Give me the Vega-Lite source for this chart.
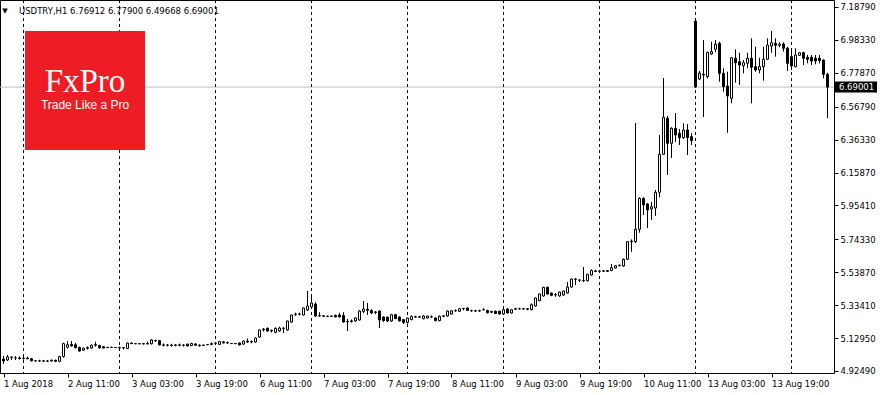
{
  "$schema": "https://vega.github.io/schema/vega-lite/v6.json",
  "width": 834,
  "height": 373,
  "autosize": {"type": "none"},
  "padding": {"left": 0, "top": 0, "right": 46, "bottom": 22},
  "background": "#ffffff",
  "config": {
    "view": {"stroke": "#000000", "strokeWidth": 1},
    "axis": {"labelFont": "DejaVu Sans", "labelFontSize": 8.5, "labelColor": "#000000", "tickColor": "#000000", "domain": false, "grid": false, "title": null, "labelOverlap": false}
  },
  "datasets": {
    "candles": [
      {"i":0,"o":4.9995,"h":5.0181,"l":4.9684,"c":4.9870},
      {"i":1,"o":4.9933,"h":5.0243,"l":4.9870,"c":5.0119},
      {"i":2,"o":5.0119,"h":5.0130,"l":4.9933,"c":5.0100},
      {"i":3,"o":5.0057,"h":5.0181,"l":4.9933,"c":5.0060},
      {"i":4,"o":5.0060,"h":5.0150,"l":4.9960,"c":5.0030},
      {"i":5,"o":5.0030,"h":5.0120,"l":4.9950,"c":5.0050},
      {"i":6,"o":5.0050,"h":5.0140,"l":4.9980,"c":5.0010},
      {"i":7,"o":5.0010,"h":5.0060,"l":4.9850,"c":4.9880},
      {"i":8,"o":4.9880,"h":4.9900,"l":4.9850,"c":4.9870},
      {"i":9,"o":4.9870,"h":4.9950,"l":4.9820,"c":4.9880},
      {"i":10,"o":4.9880,"h":4.9940,"l":4.9830,"c":4.9860},
      {"i":11,"o":4.9860,"h":4.9930,"l":4.9810,"c":4.9870},
      {"i":12,"o":4.9870,"h":4.9960,"l":4.9840,"c":4.9920},
      {"i":13,"o":4.9920,"h":4.9950,"l":4.9800,"c":4.9850},
      {"i":14,"o":4.9850,"h":5.0190,"l":4.9790,"c":5.0150},
      {"i":15,"o":5.0150,"h":5.1010,"l":5.0080,"c":5.0950},
      {"i":16,"o":5.0720,"h":5.1100,"l":5.0650,"c":5.0880},
      {"i":17,"o":5.0900,"h":5.1110,"l":5.0780,"c":5.0800},
      {"i":18,"o":5.0880,"h":5.1000,"l":5.0650,"c":5.0700},
      {"i":19,"o":5.0720,"h":5.0760,"l":5.0450,"c":5.0490},
      {"i":20,"o":5.0540,"h":5.0700,"l":5.0490,"c":5.0660},
      {"i":21,"o":5.0660,"h":5.0780,"l":5.0580,"c":5.0700},
      {"i":22,"o":5.0680,"h":5.0900,"l":5.0640,"c":5.0850},
      {"i":23,"o":5.0850,"h":5.1070,"l":5.0760,"c":5.0900},
      {"i":24,"o":5.0830,"h":5.0880,"l":5.0640,"c":5.0690},
      {"i":25,"o":5.0760,"h":5.0800,"l":5.0650,"c":5.0680},
      {"i":26,"o":5.0700,"h":5.0740,"l":5.0680,"c":5.0720},
      {"i":27,"o":5.0720,"h":5.0760,"l":5.0690,"c":5.0710},
      {"i":28,"o":5.0710,"h":5.0740,"l":5.0680,"c":5.0700},
      {"i":29,"o":5.0700,"h":5.0770,"l":5.0600,"c":5.0680},
      {"i":30,"o":5.0680,"h":5.0750,"l":5.0590,"c":5.0700},
      {"i":31,"o":5.0650,"h":5.1020,"l":5.0600,"c":5.0990},
      {"i":32,"o":5.0990,"h":5.1010,"l":5.0940,"c":5.0950},
      {"i":33,"o":5.0950,"h":5.0980,"l":5.0920,"c":5.0940},
      {"i":34,"o":5.0940,"h":5.0970,"l":5.0910,"c":5.0950},
      {"i":35,"o":5.0950,"h":5.0980,"l":5.0900,"c":5.0930},
      {"i":36,"o":5.0930,"h":5.1080,"l":5.0910,"c":5.0960},
      {"i":37,"o":5.0940,"h":5.1230,"l":5.0900,"c":5.1180},
      {"i":38,"o":5.1120,"h":5.1200,"l":5.1050,"c":5.1140},
      {"i":39,"o":5.1140,"h":5.1170,"l":5.0840,"c":5.0870},
      {"i":40,"o":5.0870,"h":5.0960,"l":5.0780,"c":5.0850},
      {"i":41,"o":5.0850,"h":5.0930,"l":5.0770,"c":5.0860},
      {"i":42,"o":5.0860,"h":5.0940,"l":5.0760,"c":5.0840},
      {"i":43,"o":5.0840,"h":5.0930,"l":5.0780,"c":5.0870},
      {"i":44,"o":5.0870,"h":5.0950,"l":5.0790,"c":5.0850},
      {"i":45,"o":5.0850,"h":5.0920,"l":5.0770,"c":5.0860},
      {"i":46,"o":5.0920,"h":5.0950,"l":5.0780,"c":5.0810},
      {"i":47,"o":5.0830,"h":5.1000,"l":5.0800,"c":5.0960},
      {"i":48,"o":5.0930,"h":5.0970,"l":5.0800,"c":5.0850},
      {"i":49,"o":5.0850,"h":5.0910,"l":5.0760,"c":5.0820},
      {"i":50,"o":5.0840,"h":5.0870,"l":5.0820,"c":5.0860},
      {"i":51,"o":5.0880,"h":5.0910,"l":5.0860,"c":5.0900},
      {"i":52,"o":5.0900,"h":5.1030,"l":5.0850,"c":5.0960},
      {"i":53,"o":5.0970,"h":5.1050,"l":5.0880,"c":5.0990},
      {"i":54,"o":5.0900,"h":5.1120,"l":5.0860,"c":5.1080},
      {"i":55,"o":5.1060,"h":5.1110,"l":5.0960,"c":5.1000},
      {"i":56,"o":5.1000,"h":5.1080,"l":5.0930,"c":5.1020},
      {"i":57,"o":5.0960,"h":5.0990,"l":5.0930,"c":5.0950},
      {"i":58,"o":5.0950,"h":5.0980,"l":5.0920,"c":5.0960},
      {"i":59,"o":5.0990,"h":5.1020,"l":5.0850,"c":5.0870},
      {"i":60,"o":5.0920,"h":5.1150,"l":5.0880,"c":5.1110},
      {"i":61,"o":5.1100,"h":5.1270,"l":5.0990,"c":5.1050},
      {"i":62,"o":5.1050,"h":5.1150,"l":5.0970,"c":5.1080},
      {"i":63,"o":5.1050,"h":5.1330,"l":5.1000,"c":5.1300},
      {"i":64,"o":5.1360,"h":5.1830,"l":5.1300,"c":5.1800},
      {"i":65,"o":5.1800,"h":5.1920,"l":5.1700,"c":5.1850},
      {"i":66,"o":5.1900,"h":5.1960,"l":5.1690,"c":5.1740},
      {"i":67,"o":5.1740,"h":5.1820,"l":5.1640,"c":5.1780},
      {"i":68,"o":5.1650,"h":5.1960,"l":5.1600,"c":5.1900},
      {"i":69,"o":5.1740,"h":5.2000,"l":5.1680,"c":5.1920},
      {"i":70,"o":5.1920,"h":5.1950,"l":5.1610,"c":5.1900},
      {"i":71,"o":5.1800,"h":5.2380,"l":5.1760,"c":5.2357},
      {"i":72,"o":5.2295,"h":5.2760,"l":5.2240,"c":5.2730},
      {"i":73,"o":5.2760,"h":5.2870,"l":5.2670,"c":5.2790},
      {"i":74,"o":5.2790,"h":5.2880,"l":5.2700,"c":5.2780},
      {"i":75,"o":5.2730,"h":5.3200,"l":5.2700,"c":5.3166},
      {"i":76,"o":5.3040,"h":5.4223,"l":5.2980,"c":5.3290},
      {"i":77,"o":5.3228,"h":5.3974,"l":5.3180,"c":5.3477},
      {"i":78,"o":5.3414,"h":5.3520,"l":5.2600,"c":5.2668},
      {"i":79,"o":5.2668,"h":5.2900,"l":5.2620,"c":5.2680},
      {"i":80,"o":5.2680,"h":5.2720,"l":5.2620,"c":5.2650},
      {"i":81,"o":5.2650,"h":5.2700,"l":5.2600,"c":5.2640},
      {"i":82,"o":5.2640,"h":5.2700,"l":5.2600,"c":5.2660},
      {"i":83,"o":5.2700,"h":5.2760,"l":5.2580,"c":5.2610},
      {"i":84,"o":5.2730,"h":5.2870,"l":5.2580,"c":5.2610},
      {"i":85,"o":5.2700,"h":5.2900,"l":5.2250,"c":5.2295},
      {"i":86,"o":5.2300,"h":5.2480,"l":5.1736,"c":5.2330},
      {"i":87,"o":5.2330,"h":5.2450,"l":5.2250,"c":5.2370},
      {"i":88,"o":5.2357,"h":5.2600,"l":5.2300,"c":5.2544},
      {"i":89,"o":5.2419,"h":5.3030,"l":5.2380,"c":5.2979},
      {"i":90,"o":5.2950,"h":5.3601,"l":5.2855,"c":5.3103},
      {"i":91,"o":5.3080,"h":5.3477,"l":5.2730,"c":5.3020},
      {"i":92,"o":5.3010,"h":5.3100,"l":5.2800,"c":5.2855},
      {"i":93,"o":5.2880,"h":5.2980,"l":5.2790,"c":5.2920},
      {"i":94,"o":5.2979,"h":5.3020,"l":5.1922,"c":5.2419},
      {"i":95,"o":5.2606,"h":5.2650,"l":5.2300,"c":5.2380},
      {"i":96,"o":5.2600,"h":5.2630,"l":5.2300,"c":5.2357},
      {"i":97,"o":5.2357,"h":5.2800,"l":5.2300,"c":5.2750},
      {"i":98,"o":5.2750,"h":5.2800,"l":5.2480,"c":5.2500},
      {"i":99,"o":5.2600,"h":5.2650,"l":5.2320,"c":5.2360},
      {"i":100,"o":5.2440,"h":5.2480,"l":5.2171,"c":5.2270},
      {"i":101,"o":5.2270,"h":5.2560,"l":5.2200,"c":5.2540},
      {"i":102,"o":5.2440,"h":5.2700,"l":5.2400,"c":5.2650},
      {"i":103,"o":5.2620,"h":5.2690,"l":5.2560,"c":5.2600},
      {"i":104,"o":5.2600,"h":5.2680,"l":5.2550,"c":5.2620},
      {"i":105,"o":5.2500,"h":5.2720,"l":5.2460,"c":5.2668},
      {"i":106,"o":5.2544,"h":5.2700,"l":5.2500,"c":5.2660},
      {"i":107,"o":5.2620,"h":5.2700,"l":5.2560,"c":5.2610},
      {"i":108,"o":5.2544,"h":5.2590,"l":5.2340,"c":5.2380},
      {"i":109,"o":5.2380,"h":5.2700,"l":5.2340,"c":5.2650},
      {"i":110,"o":5.2650,"h":5.2720,"l":5.2600,"c":5.2680},
      {"i":111,"o":5.2668,"h":5.3020,"l":5.2630,"c":5.2979},
      {"i":112,"o":5.2792,"h":5.3030,"l":5.2760,"c":5.2990},
      {"i":113,"o":5.2990,"h":5.3080,"l":5.2930,"c":5.3010},
      {"i":114,"o":5.2960,"h":5.3150,"l":5.2930,"c":5.3120},
      {"i":115,"o":5.3140,"h":5.3150,"l":5.3020,"c":5.3120},
      {"i":116,"o":5.3166,"h":5.3200,"l":5.2980,"c":5.3010},
      {"i":117,"o":5.3000,"h":5.3060,"l":5.2930,"c":5.2990},
      {"i":118,"o":5.2990,"h":5.3050,"l":5.2920,"c":5.2980},
      {"i":119,"o":5.2980,"h":5.3060,"l":5.2930,"c":5.3000},
      {"i":120,"o":5.3050,"h":5.3150,"l":5.3030,"c":5.3060},
      {"i":121,"o":5.3010,"h":5.3060,"l":5.2830,"c":5.2870},
      {"i":122,"o":5.2900,"h":5.2990,"l":5.2840,"c":5.2950},
      {"i":123,"o":5.2960,"h":5.3010,"l":5.2800,"c":5.2820},
      {"i":124,"o":5.2960,"h":5.3000,"l":5.2760,"c":5.2792},
      {"i":125,"o":5.2792,"h":5.3120,"l":5.2760,"c":5.3060},
      {"i":126,"o":5.3103,"h":5.3150,"l":5.2830,"c":5.2855},
      {"i":127,"o":5.2855,"h":5.3100,"l":5.2820,"c":5.3060},
      {"i":128,"o":5.3090,"h":5.3170,"l":5.3040,"c":5.3120},
      {"i":129,"o":5.3120,"h":5.3180,"l":5.3060,"c":5.3110},
      {"i":130,"o":5.3110,"h":5.3170,"l":5.3050,"c":5.3120},
      {"i":131,"o":5.3120,"h":5.3160,"l":5.3030,"c":5.3090},
      {"i":132,"o":5.3060,"h":5.3450,"l":5.3030,"c":5.3373},
      {"i":133,"o":5.3290,"h":5.3820,"l":5.3250,"c":5.3787},
      {"i":134,"o":5.3620,"h":5.4060,"l":5.3580,"c":5.4036},
      {"i":135,"o":5.3912,"h":5.4490,"l":5.3880,"c":5.4451},
      {"i":136,"o":5.4451,"h":5.4490,"l":5.3990,"c":5.4036},
      {"i":137,"o":5.4098,"h":5.4130,"l":5.3900,"c":5.3950},
      {"i":138,"o":5.3980,"h":5.4100,"l":5.3860,"c":5.4000},
      {"i":139,"o":5.3912,"h":5.4180,"l":5.3870,"c":5.4161},
      {"i":140,"o":5.3974,"h":5.4250,"l":5.3930,"c":5.4223},
      {"i":141,"o":5.4098,"h":5.4782,"l":5.4060,"c":5.4471},
      {"i":142,"o":5.4471,"h":5.5000,"l":5.4430,"c":5.4968},
      {"i":143,"o":5.4968,"h":5.5031,"l":5.4596,"c":5.4950},
      {"i":144,"o":5.4906,"h":5.4930,"l":5.4780,"c":5.4900},
      {"i":145,"o":5.4880,"h":5.5714,"l":5.4782,"c":5.4860},
      {"i":146,"o":5.4860,"h":5.5300,"l":5.4820,"c":5.5260},
      {"i":147,"o":5.5217,"h":5.5560,"l":5.5180,"c":5.5500},
      {"i":148,"o":5.5470,"h":5.5540,"l":5.5400,"c":5.5440},
      {"i":149,"o":5.5440,"h":5.5530,"l":5.5380,"c":5.5450},
      {"i":150,"o":5.5450,"h":5.5530,"l":5.5410,"c":5.5480},
      {"i":151,"o":5.5440,"h":5.5530,"l":5.5400,"c":5.5490},
      {"i":152,"o":5.5490,"h":5.5900,"l":5.5460,"c":5.5670},
      {"i":153,"o":5.5650,"h":5.5820,"l":5.5620,"c":5.5790},
      {"i":154,"o":5.5790,"h":5.5850,"l":5.5770,"c":5.5830},
      {"i":155,"o":5.5777,"h":5.6240,"l":5.5720,"c":5.6193},
      {"i":156,"o":5.6193,"h":5.7300,"l":5.6150,"c":5.7290},
      {"i":157,"o":5.7290,"h":5.7430,"l":5.6660,"c":5.7330},
      {"i":158,"o":5.7290,"h":6.4667,"l":5.7200,"c":5.8058},
      {"i":159,"o":5.8058,"h":6.0050,"l":5.7850,"c":5.9983},
      {"i":160,"o":5.9983,"h":6.0050,"l":5.8948,"c":5.9569},
      {"i":161,"o":5.9631,"h":5.9700,"l":5.8140,"c":5.9258},
      {"i":162,"o":5.9320,"h":5.9770,"l":5.8640,"c":5.9465},
      {"i":163,"o":5.9383,"h":6.0502,"l":5.8886,"c":6.0359},
      {"i":164,"o":6.0359,"h":6.3921,"l":6.0048,"c":6.2721},
      {"i":165,"o":6.2721,"h":6.7465,"l":6.2678,"c":6.5022},
      {"i":166,"o":6.4960,"h":6.5102,"l":6.1434,"c":6.3405},
      {"i":167,"o":6.3405,"h":6.4400,"l":6.2491,"c":6.4337},
      {"i":168,"o":6.4337,"h":6.5289,"l":6.3486,"c":6.3921},
      {"i":169,"o":6.4025,"h":6.4294,"l":6.3300,"c":6.3755},
      {"i":170,"o":6.3755,"h":6.4647,"l":6.3672,"c":6.4232},
      {"i":171,"o":6.4232,"h":6.4605,"l":6.2678,"c":6.3755},
      {"i":172,"o":6.3817,"h":6.4025,"l":6.3300,"c":6.3569},
      {"i":173,"o":7.1008,"h":7.1071,"l":6.6843,"c":6.6905},
      {"i":174,"o":6.7403,"h":6.7900,"l":6.7340,"c":6.7776},
      {"i":175,"o":6.7700,"h":6.9827,"l":6.5040,"c":6.7651},
      {"i":176,"o":6.7546,"h":6.9100,"l":6.7440,"c":6.9060},
      {"i":177,"o":6.8957,"h":6.9720,"l":6.8895,"c":6.9100},
      {"i":178,"o":6.9250,"h":6.9827,"l":6.9060,"c":6.9560},
      {"i":179,"o":6.9620,"h":6.9720,"l":6.7235,"c":6.7757},
      {"i":180,"o":6.7757,"h":6.8068,"l":6.6613,"c":6.6924},
      {"i":181,"o":6.6967,"h":6.7856,"l":6.4064,"c":6.6346},
      {"i":182,"o":6.6203,"h":6.8750,"l":6.5892,"c":6.8727},
      {"i":183,"o":6.8690,"h":6.9249,"l":6.7173,"c":6.8416},
      {"i":184,"o":6.8478,"h":6.9038,"l":6.7030,"c":6.8273},
      {"i":185,"o":6.8230,"h":6.8584,"l":6.7757,"c":6.8416},
      {"i":186,"o":6.8378,"h":6.9038,"l":6.8068,"c":6.8690},
      {"i":187,"o":6.8690,"h":6.9933,"l":6.5892,"c":6.8130},
      {"i":188,"o":6.8167,"h":6.9411,"l":6.7856,"c":6.7962},
      {"i":189,"o":6.7962,"h":6.8727,"l":6.7757,"c":6.8167},
      {"i":190,"o":6.8167,"h":6.9411,"l":6.7297,"c":6.8627},
      {"i":191,"o":6.8627,"h":6.9933,"l":6.8584,"c":6.9516},
      {"i":192,"o":6.9454,"h":7.0387,"l":6.9038,"c":6.9660},
      {"i":193,"o":6.9620,"h":6.9933,"l":6.8789,"c":6.9498},
      {"i":194,"o":6.9500,"h":6.9680,"l":6.9373,"c":6.9560},
      {"i":195,"o":6.9579,"h":6.9684,"l":6.9100,"c":6.9311},
      {"i":196,"o":6.9311,"h":6.9411,"l":6.7900,"c":6.8378},
      {"i":197,"o":6.8789,"h":6.9249,"l":6.7962,"c":6.8211},
      {"i":198,"o":6.8167,"h":6.9311,"l":6.8130,"c":6.8895},
      {"i":199,"o":6.8876,"h":6.9050,"l":6.8840,"c":6.9038},
      {"i":200,"o":6.9038,"h":6.9100,"l":6.8273,"c":6.8690},
      {"i":201,"o":6.8752,"h":6.8895,"l":6.8378,"c":6.8627},
      {"i":202,"o":6.8752,"h":6.8895,"l":6.8273,"c":6.8522},
      {"i":203,"o":6.8690,"h":6.8895,"l":6.8316,"c":6.8522},
      {"i":204,"o":6.8690,"h":6.8895,"l":6.8378,"c":6.8540},
      {"i":205,"o":6.8584,"h":6.8627,"l":6.7446,"c":6.7691},
      {"i":206,"o":6.76912,"h":6.77900,"l":6.49668,"c":6.69001}
    ],
    "seps": [{"i":5},{"i":29},{"i":53},{"i":77},{"i":101},{"i":125},{"i":149},{"i":173},{"i":197}]
  },
  "layer": [
    {
      "data": {"values": [{"p": 6.69001}]},
      "mark": {"type": "rule", "color": "#c0c0c0", "strokeWidth": 1},
      "encoding": {
        "y": {"field": "p", "type": "quantitative", "scale": {"domain": [4.9124, 7.2314], "zero": false, "nice": false, "padding": 0},
          "axis": {"orient": "right", "values": [4.9249, 5.1295, 5.3341, 5.5387, 5.7433, 5.9541, 6.1587, 6.3633, 6.5679, 6.7787, 6.9833, 7.1879], "tickCount": 30, "format": ".5f", "tickSize": 4, "labelPadding": 2, "labelOverlap": false}}
      }
    },
    {
      "data": {"name": "seps"},
      "mark": {"type": "rule", "color": "#000000", "strokeWidth": 1, "strokeDash": [3, 3]},
      "encoding": {
        "x": {"field": "i", "type": "quantitative", "scale": {"domain": [-0.875, 207.625], "zero": false, "nice": false, "padding": 0},
          "axis": {"orient": "bottom", "values": [0, 16, 32, 48, 64, 80, 96, 112, 128, 144, 160, 176, 192], "tickCount": 30, "tickSize": 4, "labelAlign": "left", "labelPadding": 2, "labelFlush": false, "labelOverlap": false,
            "labelExpr": "{'0':'1 Aug 2018','16':'2 Aug 11:00','32':'3 Aug 03:00','48':'3 Aug 19:00','64':'6 Aug 11:00','80':'7 Aug 03:00','96':'7 Aug 19:00','112':'8 Aug 11:00','128':'9 Aug 03:00','144':'9 Aug 19:00','160':'10 Aug 11:00','176':'13 Aug 03:00','192':'13 Aug 19:00'}[datum.value]"}}
      }
    },
    {
      "data": {"values": [{"x1": 5.375, "x2": 35.375, "y1": 6.2989, "y2": 7.0387}]},
      "mark": {"type": "rect", "color": "#ee1c24"},
      "encoding": {
        "x": {"field": "x1", "type": "quantitative"},
        "x2": {"field": "x2"},
        "y": {"field": "y1", "type": "quantitative"},
        "y2": {"field": "y2"}
      }
    },
    {
      "data": {"values": [{"x": 20.375, "y": 6.6594, "t": "FxPro"}]},
      "mark": {"type": "text", "color": "#ffffff", "font": "Liberation Serif", "fontSize": 33, "align": "center", "baseline": "alphabetic"},
      "encoding": {
        "x": {"field": "x", "type": "quantitative"},
        "y": {"field": "y", "type": "quantitative"},
        "text": {"field": "t"}
      }
    },
    {
      "data": {"values": [{"x": 20.375, "y": 6.5755, "t": "Trade Like a Pro"}]},
      "mark": {"type": "text", "color": "#ffffff", "font": "Liberation Sans", "fontSize": 12, "align": "center", "baseline": "middle"},
      "encoding": {
        "x": {"field": "x", "type": "quantitative"},
        "y": {"field": "y", "type": "quantitative"},
        "text": {"field": "t"}
      }
    },
    {
      "data": {"name": "candles"},
      "mark": {"type": "rule", "color": "#000000", "strokeWidth": 1},
      "encoding": {
        "x": {"field": "i", "type": "quantitative"},
        "y": {"field": "l", "type": "quantitative"},
        "y2": {"field": "h"}
      }
    },
    {
      "data": {"name": "candles"},
      "mark": {"type": "bar", "size": 2, "stroke": "#000000", "strokeWidth": 1},
      "encoding": {
        "x": {"field": "i", "type": "quantitative"},
        "y": {"field": "o", "type": "quantitative"},
        "y2": {"field": "c"},
        "fill": {"condition": {"test": "datum.c >= datum.o", "value": "#ffffff"}, "value": "#000000"}
      }
    },
    {
      "data": {"values": [{"x": 0.375, "y": 7.1630, "t": "▼"}]},
      "mark": {"type": "text", "color": "#000000", "font": "DejaVu Sans", "fontSize": 7, "align": "center", "baseline": "middle"},
      "encoding": {
        "x": {"field": "x", "type": "quantitative"},
        "y": {"field": "y", "type": "quantitative"},
        "text": {"field": "t"}
      }
    },
    {
      "data": {"values": [{"x": 3.875, "y": 7.1630, "t": "USDTRY,H1  6.76912 6.77900 6.49668 6.69001"}]},
      "mark": {"type": "text", "color": "#000000", "font": "DejaVu Sans", "fontSize": 8.5, "align": "left", "baseline": "middle"},
      "encoding": {
        "x": {"field": "x", "type": "quantitative"},
        "y": {"field": "y", "type": "quantitative"},
        "text": {"field": "t"}
      }
    },
    {
      "data": {"values": [{"x1": 207.875, "x2": 218.375, "y1": 6.6558, "y2": 6.7242}]},
      "mark": {"type": "rect", "color": "#000000", "clip": false},
      "encoding": {
        "x": {"field": "x1", "type": "quantitative"},
        "x2": {"field": "x2"},
        "y": {"field": "y1", "type": "quantitative"},
        "y2": {"field": "y2"}
      }
    },
    {
      "data": {"values": [{"x": 208.875, "y": 6.69001, "t": "6.69001"}]},
      "mark": {"type": "text", "color": "#ffffff", "font": "DejaVu Sans", "fontSize": 8.5, "align": "left", "baseline": "middle", "clip": false},
      "encoding": {
        "x": {"field": "x", "type": "quantitative"},
        "y": {"field": "y", "type": "quantitative"},
        "text": {"field": "t"}
      }
    }
  ]
}
